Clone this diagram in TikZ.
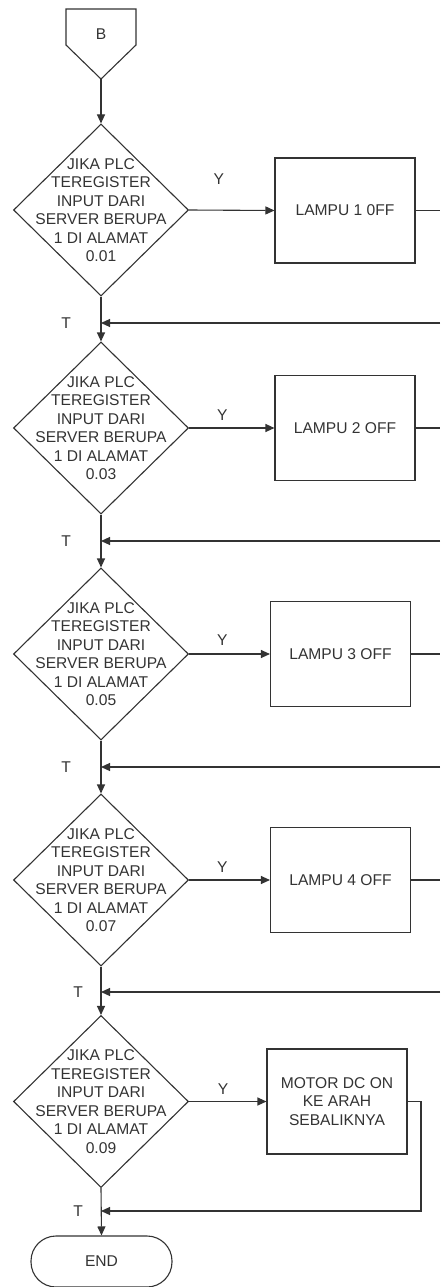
\documentclass[tikz,border=0pt]{standalone}
\usepackage{fontspec}
\setmainfont{Liberation Sans}
\usepackage{tikz}
\usetikzlibrary{arrows.meta,positioning,shapes.geometric}
\definecolor{ink}{HTML}{333333}
\newcommand{\plcq}[1]{JIKA PLC\\TEREGISTER\\INPUT DARI\\SERVER BERUPA\\1 DI ALAMAT\\#1}

\begin{document}
\begin{tikzpicture}[x=1pt,y=-1pt,
          every node/.style={font=\fontsize{15.6}{18.5}\selectfont,text=ink},
          decision/.style={draw=ink,line width=1.1pt,diamond,inner sep=0pt,
                           minimum width=175pt,minimum height=172pt},
          process/.style={draw=ink,line width=1.1pt,align=center,
                          minimum width=140pt,minimum height=105pt},
          terminal/.style={draw=ink,line width=1.1pt,rounded corners=25pt,
                           minimum width=141pt,minimum height=51pt},
          qtext/.style={align=center,inner sep=0pt},
          lbl/.style={inner sep=0pt},
          wire/.style={draw=ink,line width=1.1pt},
          flow/.style={wire,-{Triangle[length=9pt,width=8pt]}},
      ]
        \useasboundingbox (0,0) rectangle (440,1287);

        % off-page connector
        \draw[wire] (66,9) -- (136,9) -- (136,45) -- (101,79) -- (66,45) -- cycle;
        \node[lbl] (B) at (101,34) {B};
        \coordinate (Btip) at (101,79);

        % decisions and actions
        \node[decision] (d1) at (101,210) {};
        \node[qtext] (q1) at (d1) {\plcq{0.01}};
        \node[process] (b1) at (345,210.5) {LAMPU 1 0FF};

        \node[decision] (d2) at (101,428) {};
        \node[qtext] (q2) at (d2) {\plcq{0.03}};
        \node[process] (b2) at (345,428) {LAMPU 2 OFF};

        \node[decision] (d3) at (101,654) {};
        \node[qtext] (q3) at (d3) {\plcq{0.05}};
        \node[process] (b3) at (340.5,654) {LAMPU 3 OFF};

        \node[decision] (d4) at (101,880) {};
        \node[qtext] (q4) at (d4) {\plcq{0.07}};
        \node[process] (b4) at (340.5,880) {LAMPU 4 OFF};

        \node[decision] (d5) at (101,1101.5) {};
        \node[qtext] (q5) at (d5) {\plcq{0.09}};
        \node[process] (b5) at (337,1101.5) {MOTOR DC ON\\KE ARAH\\SEBALIKNYA};

        \node[terminal] (end) at (101.5,1261.5) {END};

        % free ends at the right border
        \coordinate (o1) at (440,210.5);
        \coordinate (o2) at (440,428);
        \coordinate (o3) at (440,654);
        \coordinate (o4) at (440,880);
        \coordinate (i1) at (440,323);
        \coordinate (i2) at (440,541);
        \coordinate (i3) at (440,767);
        \coordinate (i4) at (440,992);
        \coordinate (j1) at (101,323);
        \coordinate (j2) at (101,541);
        \coordinate (j3) at (101,767);
        \coordinate (j4) at (101,992);
        \coordinate (j5) at (101,1211);
        \coordinate (k5) at (421,1211);

        % connectors
        \draw[flow] (Btip) -- (d1.north);
        \draw[flow] (d1.east) -- node[lbl,pos=0.35,yshift=31pt] (y1) {Y} (b1.west);
        \draw[flow] (d2.east) -- node[lbl,pos=0.39,yshift=13pt] (y2) {Y} (b2.west);
        \draw[flow] (d3.east) -- node[lbl,pos=0.41,yshift=14pt] (y3) {Y} (b3.west);
        \draw[flow] (d4.east) -- node[lbl,pos=0.41,yshift=13pt] (y4) {Y} (b4.west);
        \draw[flow] (d5.east) -- node[lbl,pos=0.44,yshift=12pt] (y5) {Y} (b5.west);

        \draw[wire] (b1.east) -- (o1);
        \draw[wire] (b2.east) -- (o2);
        \draw[wire] (b3.east) -- (o3);
        \draw[wire] (b4.east) -- (o4);
        \draw[flow] (i1) -- (j1);
        \draw[flow] (i2) -- (j2);
        \draw[flow] (i3) -- (j3);
        \draw[flow] (i4) -- (j4);
        \draw[flow] (b5.east) -| (k5) -- (j5);

        \draw[flow] (d1.south) -- (d2.north);
        \draw[flow] (d2.south) -- (d3.north);
        \draw[flow] (d3.south) -- (d4.north);
        \draw[flow] (d4.south) -- (d5.north);
        \draw[flow] (d5.south) -- (end.north);

        \node[lbl,left=30pt of j1] (t1) {T};
        \node[lbl,left=30pt of j2] (t2) {T};
        \node[lbl,left=30pt of j3] (t3) {T};
        \node[lbl,left=18pt of j4] (t4) {T};
        \node[lbl,left=18pt of j5] (t5) {T};
      \end{tikzpicture}
\end{document}
